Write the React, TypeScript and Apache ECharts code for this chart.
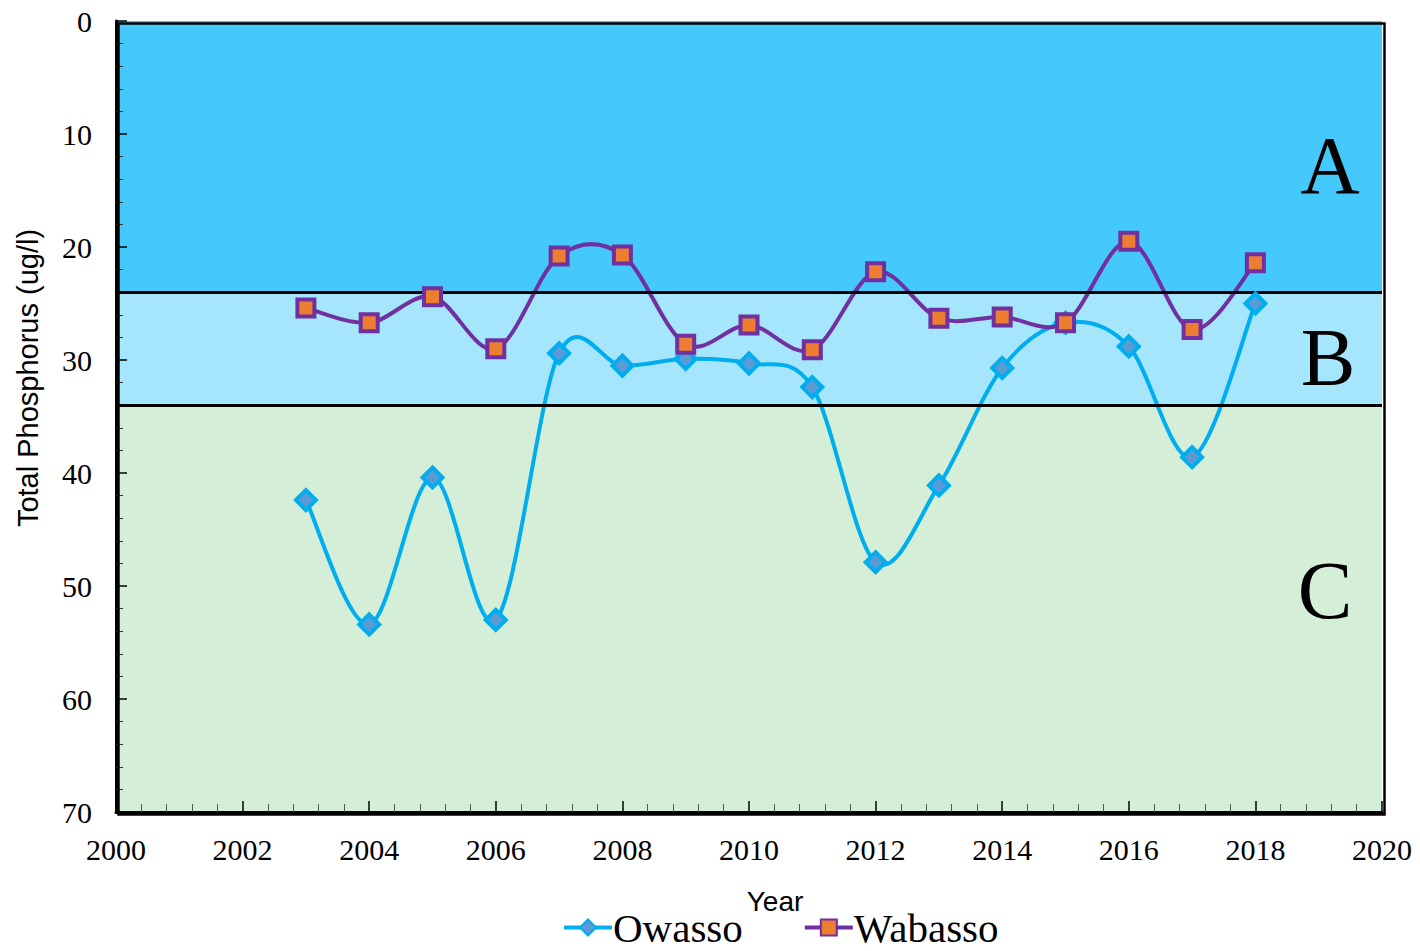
import React, { useEffect, useRef } from "react";
import * as echarts from "echarts";

const years = [2003, 2004, 2005, 2006, 2007, 2008, 2009, 2010, 2011, 2012, 2013, 2014, 2015, 2016, 2017, 2018];
const owasso = [42.4, 53.4, 40.4, 53.0, 29.4, 30.5, 29.9, 30.3, 32.4, 47.9, 41.1, 30.7, 26.7, 28.8, 38.6, 25.0];
const wabasso = [25.4, 26.7, 24.4, 29.0, 20.8, 20.7, 28.6, 26.9, 29.1, 22.2, 26.3, 26.2, 26.7, 19.5, 27.3, 21.4];
const bands = [
  { name: "A", from: 0, to: 24, color: "#45C9FA", labelY: 12.8, labelX: 19.18 + 2000 },
  { name: "B", from: 24, to: 34, color: "#A6E6FC", labelY: 29.8, labelX: 19.15 + 2000 },
  { name: "C", from: 34, to: 70, color: "#D5EED8", labelY: 50.4, labelX: 19.1 + 2000 },
];
const bandLines = [24, 34];

const OWASSO_LINE = "#00AEEF";
const WABASSO_LINE = "#7030A0";

function curveSeries(name: string, values: number[], color: string, z: number) {
  return {
    name,
    type: "custom",
    coordinateSystem: "cartesian2d",
    silent: true,
    z,
    encode: { x: 0, y: 1 },
    data: years.map((y, i) => [y, values[i]]),
    renderItem: (params: any, api: any) => {
      const i = params.dataIndexInside;
      const n = params.dataInsideLength;
      if (i >= n - 1) return { type: "group", children: [] };
      const pt = (k: number) => {
        const kk = Math.max(0, Math.min(n - 1, k));
        return api.coord([api.value(0, kk), api.value(1, kk)]);
      };
      const p0 = pt(i - 1);
      const p1 = pt(i);
      const p2 = pt(i + 1);
      const p3 = pt(i + 2);
      const t = 1 / 6;
      return {
        type: "bezierCurve",
        shape: {
          x1: p1[0],
          y1: p1[1],
          x2: p2[0],
          y2: p2[1],
          cpx1: p1[0] + (p2[0] - p0[0]) * t,
          cpy1: p1[1] + (p2[1] - p0[1]) * t,
          cpx2: p2[0] - (p3[0] - p1[0]) * t,
          cpy2: p2[1] - (p3[1] - p1[1]) * t,
        },
        style: { stroke: color, lineWidth: 4, fill: "none" },
      };
    },
  };
}

export default function App() {
  const ref = useRef<HTMLDivElement>(null);
  useEffect(() => {
    if (!ref.current) return;
    const chart = echarts.init(ref.current, null, { renderer: "svg" });
    const serif = "'Liberation Serif', 'Times New Roman', serif";
    const sans = "'Liberation Sans', Arial, sans-serif";
    chart.setOption({
      animation: false,
      grid: { left: 116, right: 38, top: 21, bottom: 139, show: false },
      xAxis: {
        type: "value",
        min: 2000,
        max: 2020,
        interval: 2,
        z: 3,
        axisLine: { show: true, onZero: false, lineStyle: { color: "#000", width: 3 } },
        axisTick: { show: true, inside: true, length: 11, lineStyle: { color: "#000", width: 1.5 } },
        minorTick: { show: true, splitNumber: 5, length: 8, lineStyle: { color: "#555", width: 1 } },
        splitLine: { show: false },
        axisLabel: { color: "#000", fontFamily: serif, fontSize: 30, margin: 22, formatter: (v: number) => String(v) },
      },
      yAxis: {
        type: "value",
        inverse: true,
        min: 0,
        max: 70,
        interval: 10,
        z: 3,
        axisLine: { show: true, onZero: false, lineStyle: { color: "#000", width: 3 } },
        axisTick: { show: true, inside: true, length: 11, lineStyle: { color: "#000", width: 1.5 } },
        minorTick: { show: true, splitNumber: 5, length: 7, lineStyle: { color: "#333", width: 1 } },
        splitLine: { show: false },
        axisLabel: { color: "#000", fontFamily: serif, fontSize: 30, margin: 24 },
      },
      legend: {
        top: 907,
        left: 562,
        padding: 0,
        itemWidth: 48,
        itemHeight: 20,
        itemGap: 60,
        textStyle: { fontFamily: serif, fontSize: 41, lineHeight: 40, color: "#000", padding: [0, 0, 0, -4] },
        data: [
          { name: "Owasso", lineStyle: { opacity: 1, color: OWASSO_LINE, width: 4 } },
          { name: "Wabasso", lineStyle: { opacity: 1, color: WABASSO_LINE, width: 4 } },
        ],
      },
      graphic: [
        {
          type: "rect",
          left: 116,
          top: 21,
          shape: { width: 1266, height: 791 },
          style: { fill: "none", stroke: "#000", lineWidth: 2.5 },
          z: 100,
        },
        {
          type: "text",
          x: 28,
          y: 378,
          rotation: Math.PI / 2,
          style: { text: "Total Phosphorus (ug/l)", fontFamily: sans, fontSize: 29, fill: "#000", align: "center", verticalAlign: "middle" },
        },
        {
          type: "text",
          x: 775,
          y: 901,
          style: { text: "Year", fontFamily: sans, fontSize: 28, fill: "#000", align: "center", verticalAlign: "middle" },
        },
      ],
      series: [
        {
          name: "bands",
          type: "line",
          data: [],
          silent: true,
          z: 1,
          markArea: {
            silent: true,
            data: bands.map((b) => [
              { yAxis: b.from, itemStyle: { color: b.color, opacity: 1 } },
              { yAxis: b.to },
            ]),
            label: { show: false },
          },
          markLine: {
            silent: true,
            symbol: "none",
            label: { show: false },
            lineStyle: { color: "#000", width: 3, type: "solid" },
            data: bandLines.map((v) => ({ yAxis: v })),
          },
          markPoint: {
            silent: true,
            symbol: "circle",
            symbolSize: 0,
            data: bands.map((b) => ({
              coord: [b.labelX, b.labelY],
              label: {
                show: true,
                position: "inside",
                formatter: b.name,
                fontFamily: serif,
                fontSize: 82,
                color: "#000",
              },
            })),
          },
        },
        curveSeries("Owasso curve", owasso, OWASSO_LINE, 4),
        curveSeries("Wabasso curve", wabasso, WABASSO_LINE, 4),
        {
          name: "Owasso",
          type: "line",
          data: years.map((y, i) => [y, owasso[i]]),
          symbol: "diamond",
          symbolSize: [20, 20],
          lineStyle: { color: OWASSO_LINE, width: 4, opacity: 0 },
          itemStyle: { color: "#5B9BD5", borderColor: OWASSO_LINE, borderWidth: 4 },
          z: 5,
        },
        {
          name: "Wabasso",
          type: "line",
          data: years.map((y, i) => [y, wabasso[i]]),
          symbol: "rect",
          symbolSize: 17,
          lineStyle: { color: WABASSO_LINE, width: 4, opacity: 0 },
          itemStyle: { color: "#ED7D31", borderColor: WABASSO_LINE, borderWidth: 4 },
          z: 6,
        },
      ],
    });
    return () => chart.dispose();
  }, []);
  return <div ref={ref} style={{ width: 1420, height: 951, margin: -8 }} />;
}
